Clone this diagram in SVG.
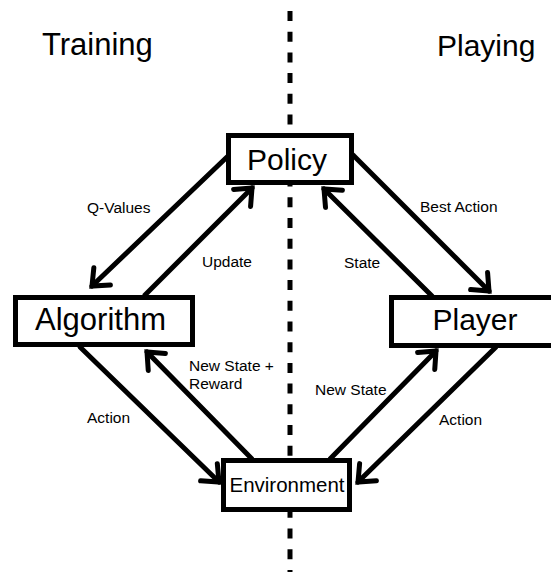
<svg xmlns="http://www.w3.org/2000/svg" width="551" height="576" viewBox="0 0 551 576">
<style>
text{font-family:"Liberation Sans",Arial,sans-serif;fill:#000}
.big{font-size:30px}
.lbl{font-size:15.5px}
.box{fill:#fff;stroke:#000;stroke-width:5}
.conn line{stroke:#000;stroke-width:5;stroke-linecap:round;marker-end:url(#ah)}
</style>
<defs>
<marker id="ah" markerUnits="userSpaceOnUse" markerWidth="40" markerHeight="40" viewBox="-20 -20 40 40" refX="0" refY="0" orient="auto" overflow="visible">
<path d="M-14,-12 L0,0 L-14,12" fill="none" stroke="#000" stroke-width="5" stroke-linecap="round" stroke-linejoin="miter"/>
</marker>
</defs>
<rect width="551" height="576" fill="#fff"/>
<line id="divider" x1="290" y1="11" x2="290" y2="572" stroke="#000" stroke-width="5" stroke-dasharray="10 10.7"/>
<text class="big" x="42" y="55" font-size="31" style="font-size:31px">Training</text>
<text class="big" x="437" y="56">Playing</text>
<g class="conn" id="connectors">
<line x1="227" y1="157" x2="92" y2="286"/>
<line x1="145" y1="295" x2="252" y2="188"/>
<line x1="353" y1="155" x2="489" y2="291"/>
<line x1="432" y1="296" x2="324" y2="189"/>
<line x1="252" y1="459" x2="147" y2="352"/>
<line x1="80" y1="347" x2="219" y2="482"/>
<line x1="330" y1="459" x2="436" y2="351"/>
<line x1="496" y1="347" x2="358" y2="482"/>
</g>
<g id="labels" class="lbl">
<text class="lbl" x="87" y="213">Q-Values</text>
<text class="lbl" x="202" y="267">Update</text>
<text class="lbl" x="420" y="212">Best Action</text>
<text class="lbl" x="344" y="268">State</text>
<text class="lbl" x="189" y="371">New State +</text>
<text class="lbl" x="189" y="389">Reward</text>
<text class="lbl" x="87" y="423">Action</text>
<text class="lbl" x="315" y="395">New State</text>
<text class="lbl" x="439" y="425">Action</text>
</g>
<g id="policy">
<rect class="box" x="228.5" y="135.5" width="123" height="47"/>
<text class="big" x="287" y="170" text-anchor="middle">Policy</text>
</g>
<g id="algorithm">
<rect class="box" x="15.5" y="297.5" width="177" height="47"/>
<text class="big" x="100.5" y="330" text-anchor="middle" style="font-size:31px">Algorithm</text>
</g>
<g id="player">
<rect class="box" x="391.5" y="297.5" width="200" height="48"/>
<text class="big" x="475" y="330" text-anchor="middle">Player</text>
</g>
<g id="environment">
<rect class="box" x="223.5" y="460.5" width="126" height="49"/>
<text x="287" y="492" font-size="20.5" text-anchor="middle">Environment</text>
</g>
</svg>
